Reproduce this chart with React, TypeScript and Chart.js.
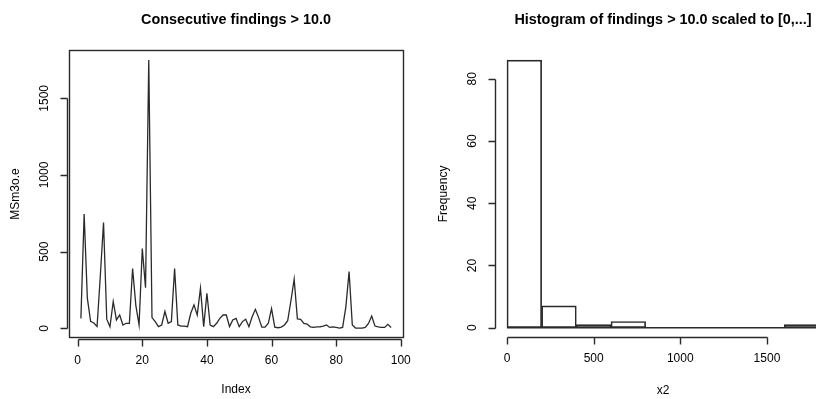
import React, { useEffect, useRef } from "react";
import { Chart, registerables } from "chart.js";

Chart.register(...registerables);

// ---- data ----
const findings: number[] = [
  65, 745, 195, 45, 35, 12, 340, 690, 60, 10,
  175, 55, 87, 22, 33, 33, 390, 150, 22, 520,
  265, 1750, 70, 44, 11, 22, 110, 33, 44, 390,
  22, 15, 15, 11, 98, 153, 87, 262, 11, 229,
  22, 11, 33, 65, 87, 87, 11, 55, 65, 11,
  44, 59, 11, 76, 124, 70, 8, 8, 33, 128,
  8, 4, 8, 22, 50, 180, 320, 62, 58, 32,
  28, 10, 6, 10, 10, 15, 22, 6, 10, 6,
  2, 6, 140, 370, 22, 2, 2, 2, 6, 32,
  80, 15, 10, 6, 6, 26, 6,
];
const histBinStarts: number[] = [0, 200, 400, 600, 800, 1000, 1200, 1400, 1600];
const histBinWidth = 200;
const histCounts: number[] = [86, 7, 1, 2, 0, 0, 0, 0, 1];

const lineXTicks: number[] = [0, 20, 40, 60, 80, 100];
const lineYTicks: number[] = [0, 500, 1000, 1500];
const histXTicks: number[] = [0, 500, 1000, 1500];
const histYTicks: number[] = [0, 20, 40, 60, 80];

const FONT = '"Liberation Sans", Arial, Helvetica, sans-serif';
const INK = "#2a2a2a";
const LW = 1.4;

type Decor = {
  title: string;
  xTitle: string;
  yTitle: string;
  xTicks: number[];
  yTicks: number[];
  box: boolean;
  gap: number;
  centerX: number;
};

function makeDecor(d: Decor) {
  return {
    id: "rDecor",
    afterDraw(chart: any) {
      const ctx: CanvasRenderingContext2D = chart.ctx;
      const a = chart.chartArea;
      const xs = chart.scales.x;
      const ys = chart.scales.y;
      ctx.save();
      ctx.strokeStyle = INK;
      ctx.fillStyle = "#000";
      ctx.lineWidth = LW;
      if (d.box) {
        ctx.strokeRect(
          Math.round(a.left) + 0.5,
          Math.round(a.top) + 0.5,
          Math.round(a.right - a.left) - 1,
          Math.round(a.bottom - a.top) - 1
        );
      }
      // x axis
      const axY = Math.round(a.bottom + d.gap) - 0.5;
      ctx.beginPath();
      ctx.moveTo(Math.round(xs.getPixelForValue(d.xTicks[0])) + 0.5, axY);
      ctx.lineTo(Math.round(xs.getPixelForValue(d.xTicks[d.xTicks.length - 1])) + 0.5, axY);
      for (const t of d.xTicks) {
        const p = Math.round(xs.getPixelForValue(t)) + 0.5;
        ctx.moveTo(p, axY);
        ctx.lineTo(p, axY + 7);
      }
      // y axis
      const axX = Math.round(a.left - d.gap) + 0.5;
      ctx.moveTo(axX, Math.round(ys.getPixelForValue(d.yTicks[0])) + 0.5);
      ctx.lineTo(axX, Math.round(ys.getPixelForValue(d.yTicks[d.yTicks.length - 1])) + 0.5);
      for (const t of d.yTicks) {
        const p = Math.round(ys.getPixelForValue(t)) + 0.5;
        ctx.moveTo(axX, p);
        ctx.lineTo(axX - 7, p);
      }
      ctx.stroke();

      ctx.font = `12px ${FONT}`;
      ctx.textAlign = "center";
      ctx.textBaseline = "middle";
      for (const t of d.xTicks) {
        ctx.fillText(String(t), xs.getPixelForValue(t), axY + 21);
      }
      for (const t of d.yTicks) {
        ctx.save();
        ctx.translate(axX - 23, ys.getPixelForValue(t));
        ctx.rotate(-Math.PI / 2);
        ctx.fillText(String(t), 0, 0);
        ctx.restore();
      }
      const cx = xs.getPixelForValue(d.centerX);
      const cy = (a.top + a.bottom) / 2;
      ctx.fillText(d.xTitle, cx, a.bottom + 52);
      ctx.save();
      ctx.translate(axX - 52, cy);
      ctx.rotate(-Math.PI / 2);
      ctx.fillText(d.yTitle, 0, 0);
      ctx.restore();

      ctx.font = `bold 14.4px ${FONT}`;
      ctx.fillText(d.title, cx, 20);
      ctx.restore();
    },
  };
}

export default function App() {
  const leftRef = useRef<HTMLCanvasElement | null>(null);
  const rightRef = useRef<HTMLCanvasElement | null>(null);

  useEffect(() => {
    const left = new Chart(leftRef.current as HTMLCanvasElement, {
      type: "line",
      data: {
        datasets: [
          {
            data: findings.map((v, i) => ({ x: i + 1, y: v })),
            borderColor: INK,
            borderWidth: 1.3,
            pointRadius: 0,
            tension: 0,
            fill: false,
          },
        ],
      },
      options: {
        responsive: false,
        animation: false,
        events: [],
        layout: { padding: { left: 68.5, right: 26.5, top: 50, bottom: 61 } },
        plugins: { legend: { display: false }, tooltip: { enabled: false } },
        scales: {
          x: { type: "linear", min: -2.84, max: 100.84, display: false },
          y: { type: "linear", min: -63, max: 1815, display: false },
        },
      },
      plugins: [
        makeDecor({
          title: "Consecutive findings > 10.0",
          xTitle: "Index",
          yTitle: "MSm3o.e",
          xTicks: lineXTicks,
          yTicks: lineYTicks,
          box: true,
          gap: 2,
          centerX: 49,
        }),
      ],
    } as any);

    const binEnd = histBinStarts[histBinStarts.length - 1] + histBinWidth;
    const right = new Chart(rightRef.current as HTMLCanvasElement, {
      type: "bar",
      data: {
        datasets: [
          {
            type: "bar",
            data: histCounts.map((c, i) => ({ x: histBinStarts[i] + histBinWidth / 2, y: c })),
            backgroundColor: "rgba(255,255,255,0)",
            borderColor: INK,
            borderWidth: 1,
            borderSkipped: false,
            barPercentage: 1,
            categoryPercentage: 1,
          },
          {
            type: "line",
            data: [
              { x: histBinStarts[0], y: 0 },
              { x: binEnd, y: 0 },
            ],
            borderColor: INK,
            borderWidth: LW,
            pointRadius: 0,
            fill: false,
          },
        ],
      },
      options: {
        responsive: false,
        animation: false,
        events: [],
        layout: { padding: { left: 86.5, right: 0, top: 49.5, bottom: 60.6 } },
        plugins: { legend: { display: false }, tooltip: { enabled: false } },
        scales: {
          x: {
            type: "linear",
            min: -72,
            max: 1783,
            offset: false,
            display: false,
            ticks: { stepSize: 500, includeBounds: false },
          },
          y: { type: "linear", min: -3.44, max: 89.44, display: false },
        },
      },
      plugins: [
        makeDecor({
          title: "Histogram of findings > 10.0 scaled to [0,...]",
          xTitle: "x2",
          yTitle: "Frequency",
          xTicks: histXTicks,
          yTicks: histYTicks,
          box: false,
          gap: 0,
          centerX: 900,
        }),
      ],
    } as any);

    return () => {
      left.destroy();
      right.destroy();
    };
  }, []);

  return (
    <div
      style={{
        position: "fixed",
        left: 0,
        top: 0,
        width: 816,
        height: 399,
        overflow: "hidden",
        background: "#fff",
      }}
    >
      <canvas
        ref={leftRef}
        width={430}
        height={399}
        style={{ position: "absolute", left: 0, top: 0, width: 430, height: 399 }}
      />
      <canvas
        ref={rightRef}
        width={408}
        height={399}
        style={{ position: "absolute", left: 408, top: 0, width: 408, height: 399 }}
      />
    </div>
  );
}
